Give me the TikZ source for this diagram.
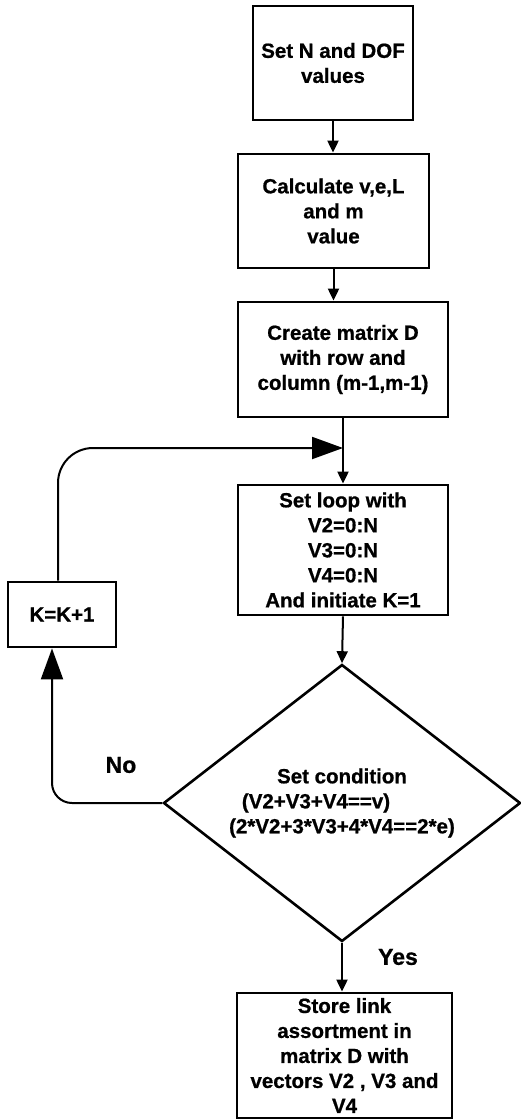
\documentclass[tikz,border=0pt]{standalone}
\usepackage{fontspec}
\setmainfont{Liberation Sans}[BoldFeatures={FakeBold=0.8}]
\usetikzlibrary{shapes.geometric,arrows.meta}
\begin{document}
\begin{tikzpicture}[x=1pt,y=-1pt,
  txt/.style={font=\fontsize{20.5}{25}\selectfont\bfseries},
  box/.style={draw,line width=2.8pt,align=center,inner sep=0pt,txt},
  cond/.style={draw,line width=2.6pt,align=center,inner sep=0pt,txt,shape=diamond,
    minimum width=357pt,minimum height=277pt,shape aspect=1.29},
  conn/.style={line width=2pt},
  smallhead/.style={-{Triangle[length=12pt,width=11pt]}},
  bighead/.style={-{Triangle[length=31pt,width=22pt]}},
  lbl/.style={font=\fontsize{23}{27}\selectfont\bfseries}
]
\useasboundingbox (0,0) rectangle (521,1120);

\node[box,minimum width=160pt,minimum height=114pt] (b1) at (333,63) {Set N and DOF\\values};
\node[box,minimum width=191pt,minimum height=114pt] (b2) at (333.5,211) {Calculate v,e,L\\and m\\value};
\node[box,minimum width=210pt,minimum height=115pt] (b3) at (343,359.5) {Create matrix D\\with row and\\column (m-1,m-1)};
\node[box,minimum width=210pt,minimum height=130pt] (b4) at (343,550) {Set loop with\\V2=0:N\\V3=0:N\\V4=0:N\\And initiate K=1};
\node[box,minimum width=108pt,minimum height=65pt] (k) at (62,614.5) {K=K+1};
\node[cond] (d) at (342,803) {Set condition\\(V2+V3+V4==v)\rule{52pt}{0pt}\\(2*V2+3*V3+4*V4==2*e)};
\node[box,minimum width=215pt,minimum height=125pt] (b5) at (344.5,1055.5) {Store link\\assortment in\\matrix D with\\vectors V2 , V3 and\\V4};

\node[lbl] (no) at (121,765) {No};
\node[lbl] (yes) at (398,957) {Yes};

\coordinate (m) at (343,448);

\draw[conn,smallhead] (b1.south) -- (b1.south |- b2.north);
\draw[conn,smallhead] (b2.south) -- (b2.south |- b3.north);
\draw[conn,smallhead] (b3.south) -- (b4.north);
\draw[conn,bighead,rounded corners=35pt] ([xshift=-4pt]k.north) |- (m);
\draw[conn,smallhead] (b4.south) -- (d.north);
\draw[conn,bighead,rounded corners=20pt] (d.west) -| ([xshift=-10pt]k.south);
\draw[conn,smallhead] (d.south) -- (d.south |- b5.north);
\end{tikzpicture}
\end{document}
